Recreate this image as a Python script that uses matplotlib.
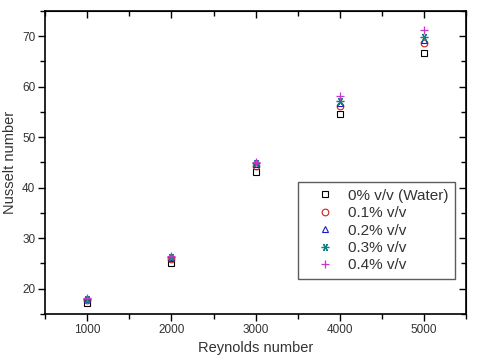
import matplotlib.pyplot as plt
from matplotlib.ticker import MultipleLocator

plt.rcParams['font.family'] = ['Liberation Sans', 'DejaVu Sans']

reynolds = [1000, 2000, 3000, 4000, 5000]
nu_water = [17.2, 25.0, 43.2, 54.6, 66.6]
nu_01 = [17.7, 25.9, 44.2, 56.2, 68.7]
nu_02 = [18.0, 26.1, 44.6, 56.8, 69.2]
nu_03 = [18.0, 26.2, 44.8, 57.2, 69.9]
nu_04 = [18.2, 26.4, 45.0, 58.1, 71.2]

labels = ['0% v/v (Water)', '0.1% v/v', '0.2% v/v', '0.3% v/v', '0.4% v/v']


def main():
    fig = plt.figure(figsize=(4.8, 3.63), dpi=100)
    ax = fig.add_axes([0.094, 0.135, 0.877, 0.835])

    ax.plot(reynolds, nu_water, ls='none', marker='s', ms=4.5, mfc='none',
            mec='black', mew=0.8, label=labels[0])
    ax.plot(reynolds, nu_01, ls='none', marker='o', ms=4.8, mfc='none',
            mec='#d02020', mew=0.8, label=labels[1])
    ax.plot(reynolds, nu_02, ls='none', marker='^', ms=5, mfc='none',
            mec='#1a1acc', mew=0.8, label=labels[2])
    ax.plot(reynolds, nu_03, ls='none', marker=(6, 2, 90), ms=5.5,
            mec='#108080', mew=0.9, label=labels[3])
    ax.plot(reynolds, nu_04, ls='none', marker='+', ms=5.5,
            mec='#cc33cc', mew=0.9, label=labels[4])

    ax.set_xlim(500, 5500)
    ax.set_ylim(15, 75)
    ax.xaxis.set_major_locator(MultipleLocator(1000))
    ax.xaxis.set_minor_locator(MultipleLocator(500))
    ax.yaxis.set_major_locator(MultipleLocator(10))
    ax.yaxis.set_minor_locator(MultipleLocator(5))
    ax.tick_params(which='major', direction='out', length=5, width=1,
                   labelsize=8.5, labelcolor='#333333', pad=2)
    ax.tick_params(which='minor', direction='out', length=3.5, width=1)
    for s in ax.spines.values():
        s.set_linewidth(1.2)

    # mirrored inward ticks on top and right, like Origin
    top = ax.secondary_xaxis('top')
    top.xaxis.set_major_locator(MultipleLocator(1000))
    top.xaxis.set_minor_locator(MultipleLocator(500))
    top.tick_params(which='both', direction='in', labeltop=False, width=1)
    top.tick_params(which='major', length=5)
    top.tick_params(which='minor', length=3.5)
    right = ax.secondary_yaxis('right')
    right.yaxis.set_major_locator(MultipleLocator(10))
    right.yaxis.set_minor_locator(MultipleLocator(5))
    right.tick_params(which='both', direction='in', labelright=False, width=1)
    right.tick_params(which='major', length=5)
    right.tick_params(which='minor', length=3.5)

    ax.set_xlabel('Reynolds number', fontsize=10.5, color='#333333', labelpad=4)
    ax.set_ylabel('Nusselt number', fontsize=10.5, color='#333333', labelpad=4)

    leg = ax.legend(loc='lower right', bbox_to_anchor=(0.974, 0.115),
                    borderaxespad=0, fontsize=11, frameon=True, fancybox=False,
                    edgecolor='#333333', handlelength=2.6, handletextpad=0.2,
                    labelspacing=0.22, borderpad=0.45)
    leg.get_frame().set_linewidth(1.0)
    for t in leg.get_texts():
        t.set_color('#333333')

    fig.savefig('out.png', dpi=100)


if __name__ == "__main__":
    main()
